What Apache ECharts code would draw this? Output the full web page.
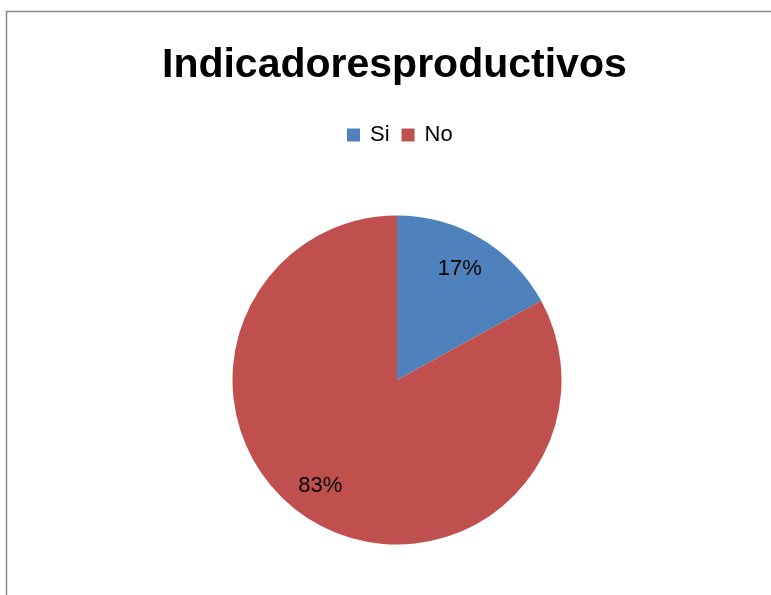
<!DOCTYPE html>
<html>
<head>
<meta charset="utf-8">
<script src="https://cdn.jsdelivr.net/npm/echarts@6/dist/echarts.min.js"></script>
<style>
html,body{margin:0;padding:0;background:#fff;}
#c{width:771px;height:595px;}
</style>
</head>
<body>
<div id="c"></div>
<script>
var titleText = 'Indicadoresproductivos';
var categories = ['Si', 'No'];
var values = [17, 83];
var colors = ['#4F81BD', '#C0504D'];

var FONT = '"Liberation Sans", Arial, sans-serif';
var labelOffsets = [[-3, 0], [-11, -5]];

var chart = echarts.init(document.getElementById('c'), null, {renderer: 'canvas'});

var mainData = categories.map(function (name, i) {
  return {name: name, value: values[i], itemStyle: {color: colors[i]}};
});
var labelData = categories.map(function (name, i) {
  return {name: name, value: values[i], label: {offset: labelOffsets[i]}};
});

var option = {
  backgroundColor: '#ffffff',
  animation: false,
  title: {
    text: titleText,
    left: 157,
    top: 40,
    textStyle: {fontFamily: FONT, fontSize: 41, fontWeight: 'bold', color: '#000'}
  },
  legend: {
    data: categories,
    left: 342,
    top: 119,
    itemWidth: 13,
    itemHeight: 13,
    itemGap: 12,
    icon: 'rect',
    textStyle: {fontFamily: FONT, fontSize: 22, color: '#000', padding: [0, 0, 0, 5]}
  },
  graphic: [
    {type: 'polyline', silent: true, shape: {points: [[6.5, 600], [6.5, 11.5], [780, 11.5]]},
     style: {stroke: '#8c8c8c', lineWidth: 1.5, fill: null}}
  ],
  series: [
    {
      type: 'pie',
      center: [397, 380],
      radius: [0, 164.5],
      startAngle: 90,
      clockwise: true,
      silent: true,
      label: {show: false},
      labelLine: {show: false},
      data: mainData
    },
    {
      type: 'pie',
      center: [397, 380],
      radius: [88, 164.5],
      startAngle: 90,
      clockwise: true,
      silent: true,
      legendHoverLink: false,
      itemStyle: {color: 'rgba(0,0,0,0)'},
      label: {
        show: true,
        position: 'inside',
        formatter: function (p) { return Math.round(p.percent) + '%'; },
        fontFamily: FONT,
        fontSize: 22,
        color: '#000'
      },
      labelLine: {show: false},
      data: labelData
    }
  ]
};
chart.setOption(option);
</script>
</body>
</html>
